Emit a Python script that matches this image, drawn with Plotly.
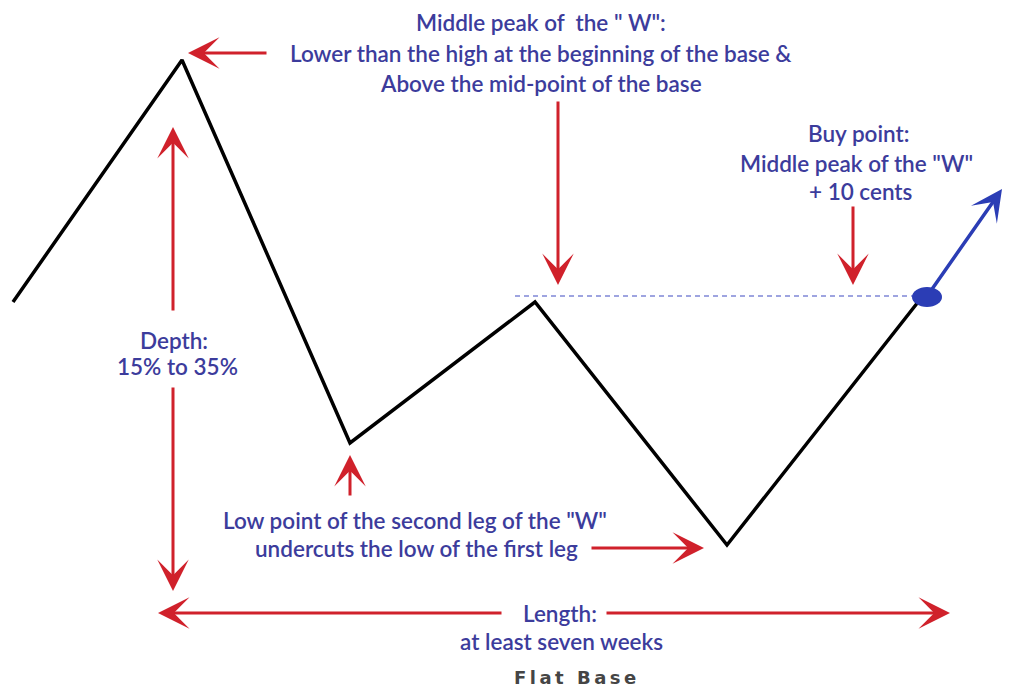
import plotly.graph_objects as go

# Price path of the "W" (flat base illustration), in picture units (x right, y down)
path_x = [13, 182, 350, 535, 727, 922]
path_y = [302, 60, 443, 302, 545, 297]

# Buy-point level (middle peak of the W) and buy point
pivot_level = 296
pivot_start_x = 515
buy_x, buy_y = 927, 297

RED = "#d0212b"
BLUE_TXT = "#3c3c9c"
BLUE = "#2b3db5"
FONT = "Lato"
FS = 22.5

# The page body has an 8px margin: size and ranges compensate so units = screen pixels
OFF = 8
W, H = 1010, 687

fig = go.Figure()
fig.add_trace(go.Scatter(x=path_x, y=path_y, mode="lines",
                         line=dict(color="black", width=3.5), hoverinfo="skip"))
fig.add_trace(go.Scatter(x=[pivot_start_x, buy_x], y=[pivot_level, pivot_level], mode="lines",
                         line=dict(color="#7f86d6", width=1.6, dash="5px,4px"), hoverinfo="skip"))

fig.add_shape(type="circle", xref="x", yref="y", x0=buy_x - 15, x1=buy_x + 15,
              y0=buy_y - 10, y1=buy_y + 10, fillcolor=BLUE, line=dict(color=BLUE, width=0))

# arrows: (tail_x, tail_y, tip_x, tip_y, color, width)
arrows = [
    (268, 53, 188, 53, RED, 3),      # to first high
    (173, 312, 173, 127, RED, 3),    # depth up
    (173, 386, 173, 591, RED, 3),    # depth down
    (558, 100, 558, 285, RED, 3),    # middle peak
    (853, 205, 853, 285, RED, 3),    # buy point
    (350, 497, 350, 455, RED, 3),    # low of first leg
    (590, 548, 704, 548, RED, 3),    # undercut
    (503, 613, 158, 613, RED, 3),    # length left
    (605, 613, 950, 613, RED, 3),    # length right
    (930, 292, 1002, 189, BLUE, 3.5),  # breakout
]
for tx, ty, hx, hy, c, w in arrows:
    fig.add_annotation(x=hx, y=hy, ax=tx, ay=ty, xref="x", yref="y", axref="x", ayref="y",
                       text="", showarrow=True, arrowhead=3, arrowsize=1.75 * 3 / w, arrowwidth=w,
                       arrowcolor=c, standoff=0)

# text lines: (x, y, text)
labels = [
    (541, 22, 'Middle peak of  the " W":'),
    (541, 53, "Lower than the high at the beginning of the base &"),
    (541, 83, "Above the mid-point of the base"),
    (858, 133, "Buy point:"),
    (856, 163, 'Middle peak of the "W"'),
    (861, 191, "+ 10 cents"),
    (174, 340, "Depth:"),
    (177, 366, "15% to 35%"),
    (415, 520, 'Low point of the second leg of the "W"'),
    (416, 548, "undercuts the low of the first leg"),
    (560, 613, "Length:"),
    (561, 641, "at least seven weeks"),
]
for x, y, t in labels:
    fig.add_annotation(x=x, y=y, xref="x", yref="y", text=t, showarrow=False,
                       font=dict(family=FONT, size=FS, color=BLUE_TXT, weight=600),
                       xanchor="center", yanchor="middle")

fig.add_annotation(x=577, y=677, xref="x", yref="y",
                   text='<span style="letter-spacing:3.5px">Flat Base</span>', showarrow=False,
                   font=dict(family="DejaVu Sans", size=18, color="#454545", weight="bold"),
                   xanchor="center", yanchor="middle")

fig.update_layout(width=W - OFF, height=H - OFF, margin=dict(l=0, r=0, t=0, b=0),
                  paper_bgcolor="white", plot_bgcolor="white", showlegend=False,
                  xaxis=dict(range=[OFF, W], visible=False, fixedrange=True),
                  yaxis=dict(range=[H, OFF], visible=False, fixedrange=True))
fig.write_html("out.html")
